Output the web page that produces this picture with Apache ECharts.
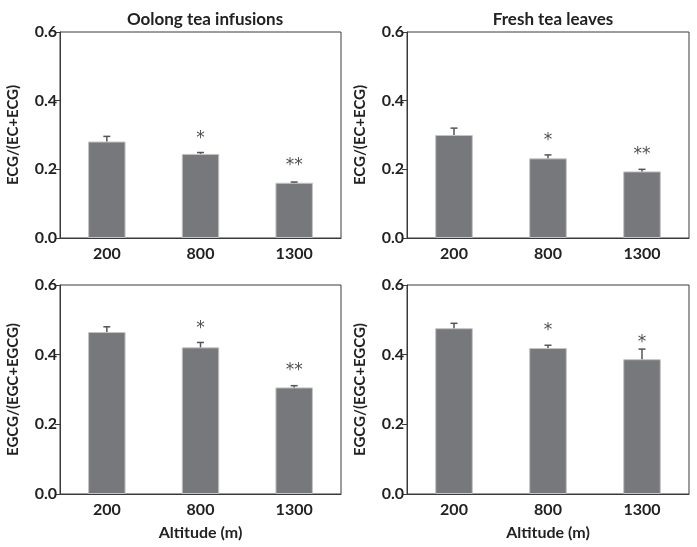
<!DOCTYPE html>
<html><head><meta charset="utf-8">
<script src="https://cdn.jsdelivr.net/npm/echarts@6/dist/echarts.min.js"></script>
<style>html,body{margin:0;padding:0;background:#fff}#c{width:697px;height:547px}</style>
</head><body><div id="c"></div>
<script>
const categories = ['200', '800', '1300'];
const yTicks = ['0.0', '0.2', '0.4', '0.6'];
const titles = ['Oolong tea infusions', 'Fresh tea leaves'];
const yNames = ['ECG/(EC+ECG)', 'ECG/(EC+ECG)', 'EGCG/(EGC+EGCG)', 'EGCG/(EGC+EGCG)'];
const xName = 'Altitude (m)';

const ecgInfusion = [0.281, 0.245, 0.161];
const ecgInfusionErr = [0.015, 0.004, 0.002];
const ecgLeaves = [0.300, 0.232, 0.194];
const ecgLeavesErr = [0.020, 0.010, 0.006];
const egcgInfusion = [0.465, 0.421, 0.306];
const egcgInfusionErr = [0.015, 0.014, 0.005];
const egcgLeaves = [0.476, 0.419, 0.387];
const egcgLeavesErr = [0.014, 0.008, 0.029];

const sigInfusionECG = ['', '*', '**'];
const sigLeavesECG = ['', '*', '**'];
const sigInfusionEGCG = ['', '*', '**'];
const sigLeavesEGCG = ['', '*', '*'];
const sigPosInfusionECG = [0, 0.300, 0.224];
const sigPosLeavesECG = [0, 0.295, 0.254];
const sigPosInfusionEGCG = [0, 0.485, 0.365];
const sigPosLeavesEGCG = [0, 0.480, 0.447];

const panels = [
  {vals: ecgInfusion, errs: ecgInfusionErr, sig: sigInfusionECG, sigPos: sigPosInfusionECG},
  {vals: ecgLeaves, errs: ecgLeavesErr, sig: sigLeavesECG, sigPos: sigPosLeavesECG},
  {vals: egcgInfusion, errs: egcgInfusionErr, sig: sigInfusionEGCG, sigPos: sigPosInfusionEGCG},
  {vals: egcgLeaves, errs: egcgLeavesErr, sig: sigLeavesEGCG, sigPos: sigPosLeavesEGCG}
];

const FONT = 'Lato';
const gridPos = [
  {left: 60, width: 281, top: 32, height: 206},
  {left: 407, width: 282, top: 32, height: 206},
  {left: 60, width: 281, top: 285, height: 209},
  {left: 407, width: 282, top: 285, height: 209}
];

const grid = gridPos.map(g => Object.assign({show: true, borderColor: '#3a3a3a', borderWidth: 1, backgroundColor: 'transparent'}, g));
const xAxis = gridPos.map((g, i) => ({
  type: 'category', gridIndex: i, data: categories,
  name: i >= 2 ? xName : '', nameLocation: 'middle', nameGap: 31,
  nameTextStyle: {fontFamily: FONT, fontWeight: 'bold', fontSize: 16, color: '#222'},
  axisLine: {lineStyle: {color: '#3a3a3a', width: 1}},
  axisTick: {show: false},
  axisLabel: {fontFamily: FONT, fontWeight: 'bold', fontSize: 16, color: '#222', margin: 8}
}));
const yAxis = gridPos.map((g, i) => ({
  type: 'value', gridIndex: i, min: 0, max: 0.6, interval: 0.2,
  name: yNames[i], nameLocation: 'middle', nameGap: 39,
  nameTextStyle: {fontFamily: FONT, fontWeight: 'bold', fontSize: 15, color: '#222'},
  axisLine: {show: true, lineStyle: {color: '#3a3a3a', width: 1}},
  axisTick: {show: true, length: 5, lineStyle: {color: '#3a3a3a'}},
  splitLine: {show: false},
  axisLabel: {fontFamily: FONT, fontWeight: 'bold', fontSize: 16, color: '#222', margin: 3,
    formatter: v => yTicks[Math.round(v / 0.2)]}
}));

const series = [];
panels.forEach((p, i) => {
  series.push({
    type: 'bar', xAxisIndex: i, yAxisIndex: i, data: p.vals, barWidth: '40%',
    itemStyle: {color: '#77787c', borderColor: '#c4c4c4', borderWidth: 1},
    z: 2
  });
  series.push({
    type: 'custom', xAxisIndex: i, yAxisIndex: i, z: 3,
    data: p.vals.map((v, k) => [k, v, v + p.errs[k]]),
    renderItem: function (params, api) {
      const base = api.coord([api.value(0), api.value(1)]);
      const top = api.coord([api.value(0), api.value(2)]);
      return {type: 'group', children: [
        {type: 'line', shape: {x1: base[0], y1: base[1], x2: top[0], y2: top[1]}, style: {stroke: '#555', lineWidth: 1.5}},
        {type: 'line', shape: {x1: top[0] - 3.5, y1: top[1], x2: top[0] + 3.5, y2: top[1]}, style: {stroke: '#555', lineWidth: 1.5}}
      ]};
    }
  });
  series.push({
    type: 'custom', xAxisIndex: i, yAxisIndex: i, z: 4,
    data: p.sigPos.map((v, k) => [k, v]),
    renderItem: function (params, api) {
      const k = params.dataIndex;
      const t = p.sig[k];
      if (!t) return null;
      const pt = api.coord([api.value(0), api.value(1)]);
      return {type: 'text', x: pt[0], y: pt[1] + 4,
        style: {text: t, fontFamily: 'DejaVu Sans', fontSize: 17, fill: '#505050', align: 'center', verticalAlign: 'middle'}};
    }
  });
});

const chart = echarts.init(document.getElementById('c'), null, {renderer: 'canvas'});
chart.setOption({
  animation: false,
  title: [
    {text: titles[0], left: 200, top: 6, textAlign: 'center', textStyle: {fontFamily: FONT, fontWeight: 'bold', fontSize: 17, color: '#222'}},
    {text: titles[1], left: 548, top: 6, textAlign: 'center', textStyle: {fontFamily: FONT, fontWeight: 'bold', fontSize: 17, color: '#222'}}
  ],
  grid, xAxis, yAxis, series
});
</script></body></html>
